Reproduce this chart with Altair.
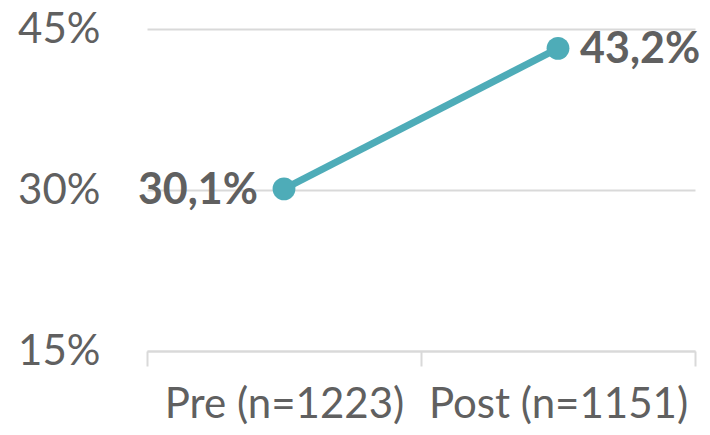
import altair as alt
import pandas as pd

categories = ["Pre (n=1223)", "Post (n=1151)"]
values = [0.301, 0.432]
y_ticks = [0.15, 0.30, 0.45]

df = pd.DataFrame({
    "cat": categories,
    "val": values,
    "lab": [f"{v*100:.1f}".replace(".", ",") + "%" for v in values],
    "idx": list(range(len(categories))),
})

FONT = "Lato"
GRAY = "#606060"
TEAL = "#4EACB8"

x_enc = alt.X("cat:N", sort=categories,
              scale=alt.Scale(type="band", paddingInner=0, paddingOuter=0),
              axis=alt.Axis(title=None, labelAngle=0, labelFont=FONT, labelFontSize=42,
                            labelColor=GRAY, domainColor="#d9d9d9", domainWidth=2,
                            tickColor="#d9d9d9", tickWidth=2, tickSize=15, tickBand="extent",
                            labelPadding=18, labelLimit=400, labelOverlap=False, grid=False))
y_enc = alt.Y("val:Q", scale=alt.Scale(domain=[0.15, 0.45], nice=False, zero=False),
              axis=alt.Axis(title=None, values=y_ticks, format=".0%", labelFont=FONT,
                            labelFontSize=42, labelColor=GRAY, ticks=False, domain=False,
                            labelPadding=47, gridColor="#d9d9d9", gridWidth=2))

base = alt.Chart(df)
line = base.mark_line(color=TEAL, strokeWidth=7).encode(x=x_enc, y=y_enc)
pts = base.mark_point(filled=True, color=TEAL, size=520, opacity=1).encode(x=x_enc, y=y_enc)
lab_left = base.transform_filter("datum.idx == 0").mark_text(
    align="right", baseline="middle", dx=-26, dy=2, font=FONT, fontWeight="bold",
    fontSize=43, color=GRAY).encode(x=x_enc, y=y_enc, text="lab:N")
lab_right = base.transform_filter("datum.idx == 1").mark_text(
    align="left", baseline="middle", dx=22, dy=2, font=FONT, fontWeight="bold",
    fontSize=43, color=GRAY).encode(x=x_enc, y=y_enc, text="lab:N")

chart = alt.layer(line, pts, lab_left, lab_right).properties(
    width=548, height=322,
    autosize=alt.AutoSizeParams(type="none"),
    padding={"left": 139, "top": 21, "right": 7, "bottom": 84},
).configure_view(stroke=None).configure_axisX(grid=False)

chart.save("out.html", embed_options={"renderer": "svg", "actions": False})
